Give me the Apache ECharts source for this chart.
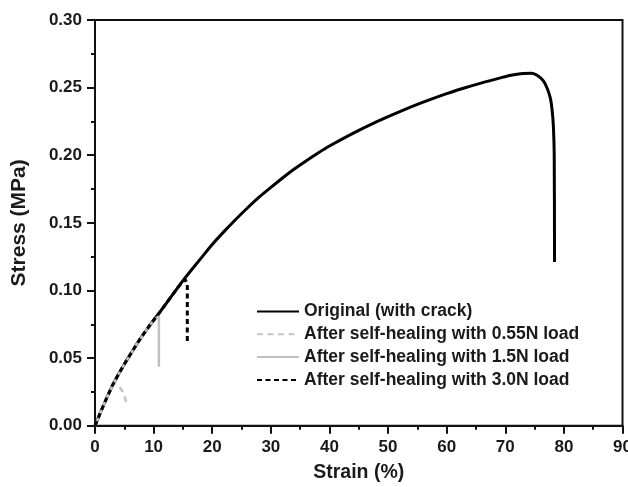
<!DOCTYPE html>
<html>
<head>
<meta charset="utf-8">
<script src="https://cdn.jsdelivr.net/npm/echarts@6/dist/echarts.min.js"></script>
<style>html,body{margin:0;padding:0;background:#fff;}#c{width:628px;height:487px;}</style>
</head>
<body>
<div id="c"></div>
<script>
// Data
var seriesNames = ['Original (with crack)', 'After self-healing with 0.55N load', 'After self-healing with 1.5N load', 'After self-healing with 3.0N load'];
var xTicks = [0, 10, 20, 30, 40, 50, 60, 70, 80, 90];
var yTicks = [0.00, 0.05, 0.10, 0.15, 0.20, 0.25, 0.30];

var originalStrain = [0, 1, 2, 3, 4, 5, 6, 7, 8, 9, 10, 11, 12, 13, 14, 15, 16, 18, 20, 22, 24, 26, 28, 30, 32, 34, 36, 38, 40, 44, 48, 52, 56, 60, 63, 66, 69, 71, 73, 74.5, 75.5, 76.5, 77.2, 77.7, 78.0, 78.2, 78.35, 78.4];
var originalStress = [0, 0.0105, 0.0205, 0.0300, 0.0380, 0.0455, 0.0525, 0.0595, 0.0660, 0.0722, 0.0780, 0.0836, 0.0895, 0.0954, 0.1014, 0.1073, 0.1127, 0.1234, 0.1340, 0.1435, 0.1525, 0.1610, 0.1690, 0.1762, 0.1832, 0.1898, 0.1958, 0.2015, 0.2068, 0.2162, 0.2247, 0.2323, 0.2392, 0.2455, 0.2497, 0.2535, 0.2570, 0.2592, 0.2605, 0.2607, 0.2590, 0.2550, 0.2490, 0.2420, 0.2330, 0.2220, 0.2000, 0.1210];

var heal055Strain = [0, 1, 2, 2.8, 3.4, 4.0, 4.6, 5.1, 5.4];
var heal055Stress = [0, 0.0105, 0.0205, 0.0280, 0.0310, 0.0295, 0.0260, 0.0210, 0.0153];

var heal15Strain = [0, 1, 2, 3, 4, 5, 6, 7, 8, 9, 10, 10.9, 10.9];
var heal15Stress = [0, 0.0105, 0.0205, 0.0300, 0.0380, 0.0455, 0.0525, 0.0595, 0.0660, 0.0722, 0.0780, 0.0810, 0.0435];

var heal30Strain = [0, 1, 2, 3, 4, 5, 6, 7, 8, 9, 10, 11, 12, 13, 14, 15, 15.4, 15.75, 15.75];
var heal30Stress = [0, 0.0105, 0.0205, 0.0300, 0.0380, 0.0455, 0.0525, 0.0595, 0.0660, 0.0722, 0.0780, 0.0836, 0.0895, 0.0954, 0.1014, 0.1068, 0.1080, 0.1050, 0.0610];

function pairs(xs, ys) { return xs.map(function (x, i) { return [x, ys[i]]; }); }

var font = 'Liberation Sans, Arial, Helvetica, sans-serif';
var textCol = '#1a1a1a';

var chart = echarts.init(document.getElementById('c'), null, { renderer: 'canvas' });
chart.setOption({
  animation: false,
  backgroundColor: '#fff',
  grid: { left: 95, right: 5.5, top: 20, bottom: 61.3, show: true, borderColor: '#111', borderWidth: 2,
    backgroundColor: 'transparent', containLabel: false, outerBoundsMode: 'none' },
  xAxis: {
    type: 'value', min: xTicks[0], max: xTicks[xTicks.length - 1], interval: 10,
    name: 'Strain (%)', nameLocation: 'middle', nameGap: 37,
    nameTextStyle: { fontFamily: font, fontWeight: 'bold', fontSize: 19.5, color: textCol },
    axisLine: { show: true, lineStyle: { color: '#111', width: 2 } },
    axisTick: { show: true, length: 8, lineStyle: { color: '#111', width: 2 } },
    minorTick: { show: true, splitNumber: 2, length: 4, lineStyle: { color: '#111', width: 2 } },
    axisLabel: { fontFamily: font, fontWeight: 'bold', fontSize: 17, color: textCol, margin: 13, hideOverlap: false },
    splitLine: { show: false }
  },
  yAxis: {
    type: 'value', min: yTicks[0], max: yTicks[yTicks.length - 1], interval: 0.05,
    name: 'Stress (MPa)', nameLocation: 'middle', nameGap: 65,
    nameTextStyle: { fontFamily: font, fontWeight: 'bold', fontSize: 21, color: textCol },
    axisLine: { show: true, lineStyle: { color: '#111', width: 2 } },
    axisTick: { show: true, length: 8, lineStyle: { color: '#111', width: 2 } },
    minorTick: { show: true, splitNumber: 2, length: 4, lineStyle: { color: '#111', width: 2 } },
    axisLabel: { fontFamily: font, fontWeight: 'bold', fontSize: 17, color: textCol, margin: 13,
      formatter: function (v) { return v.toFixed(2); } },
    splitLine: { show: false }
  },
  legend: {
    orient: 'vertical', left: 251, top: 296.5, itemWidth: 42, itemHeight: 14, itemGap: 2.8,
    data: seriesNames,
    itemStyle: { opacity: 0 },
    textStyle: { fontFamily: font, fontWeight: 'bold', fontSize: 17.5, color: textCol, lineHeight: 20 }
  },
  series: [
    { name: seriesNames[0], type: 'line', symbol: 'none', smooth: 0.3, data: pairs(originalStrain, originalStress),
      lineStyle: { color: '#000', width: 3, type: 'solid' }, itemStyle: { color: '#000' }, z: 2 },
    { name: seriesNames[1], type: 'line', symbol: 'none', smooth: 0.3, data: pairs(heal055Strain, heal055Stress),
      lineStyle: { color: '#c4c4c4', width: 2.5, type: [6, 4.5] }, itemStyle: { color: '#c4c4c4' }, z: 3 },
    { name: seriesNames[2], type: 'line', symbol: 'none', data: pairs(heal15Strain, heal15Stress),
      lineStyle: { color: '#c0c0c0', width: 2.5, type: 'solid' }, itemStyle: { color: '#c0c0c0' }, z: 4 },
    { name: seriesNames[3], type: 'line', symbol: 'none', data: pairs(heal30Strain, heal30Stress),
      lineStyle: { color: '#000', width: 3, type: [5, 3.5] }, itemStyle: { color: '#000' }, z: 5 }
  ]
});
</script>
</body>
</html>
